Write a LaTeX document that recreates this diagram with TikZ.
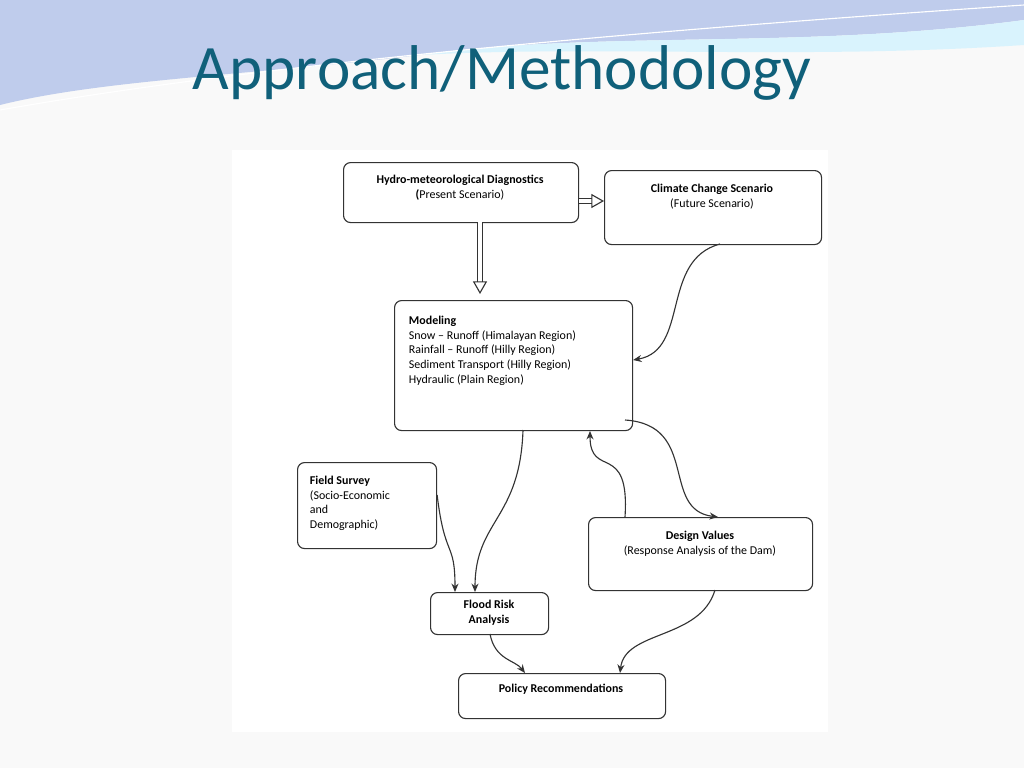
\documentclass[tikz,border=0pt]{standalone}
\usepackage{fontspec}
\setmainfont{Carlito}
\usetikzlibrary{arrows.meta}
\definecolor{titlec}{RGB}{16,96,122}
\begin{document}
\begin{tikzpicture}[x=0.25mm,y=-0.25mm,
  box/.style={draw=black!80,rounded corners=5pt,thick,font=\fontsize{8.5}{10.5}\selectfont,align=center},
  con/.style={draw=black!80,thick,-{Stealth[length=6pt,width=5pt]}},
  hol/.style={draw=black!80,double=white,double distance=3pt,thick,-{Triangle[open,length=9pt,width=10pt]}}]
\fill[gray!5] (0,0) rectangle (1024,768);
\useasboundingbox (0,0) rectangle (1024,768);
% top wave
\fill[cyan!45!blue!25] (0,0) -- (1024,0) -- (1024,20) .. controls (800,50) and (600,30) .. (420,55) .. controls (250,75) and (100,80) .. (0,105) -- cycle;
\fill[cyan!15] (420,55) .. controls (600,30) and (800,50) .. (1024,20) -- (1024,45) .. controls (800,60) and (600,45) .. (420,55);
\draw[white,thick] (0,110) .. controls (200,75) and (500,40) .. (1024,5);
\node[text=titlec,font=\fontsize{45}{50}\selectfont] (title) at (502,73) {Approach/Methodology};
\fill[white] (232,150) rectangle (828,732);
\node[box,minimum width=235*0.25mm,minimum height=60*0.25mm,anchor=north west] (hy) at (343,162) {};
\node[font=\fontsize{8.5}{10.5}\selectfont,align=center,anchor=north] at (460,170) {\textbf{Hydro-meteorological Diagnostics}\\\textbf{(}Present Scenario)};
\node[box,minimum width=217*0.25mm,minimum height=74*0.25mm,anchor=north west] (cc) at (604,170) {};
\node[font=\fontsize{8.5}{10.5}\selectfont,align=center,anchor=north] at (712,179) {\textbf{Climate Change Scenario}\\(Future Scenario)};
\node[box,minimum width=238*0.25mm,minimum height=130*0.25mm,anchor=north west] (mo) at (394,300) {};
\node[font=\fontsize{8.5}{10.5}\selectfont,align=left,anchor=north west] at (404,311) {\textbf{Modeling}\\Snow -- Runoff (Himalayan Region)\\Rainfall -- Runoff (Hilly Region)\\Sediment Transport (Hilly Region)\\Hydraulic (Plain Region)};
\node[box,minimum width=139*0.25mm,minimum height=86*0.25mm,anchor=north west] (fs) at (297,462) {};
\node[font=\fontsize{8.5}{10.5}\selectfont,align=left,anchor=north west] at (305,471) {\textbf{Field Survey}\\(Socio-Economic\\and\\Demographic)};
\node[box,minimum width=224*0.25mm,minimum height=73*0.25mm,anchor=north west] (dv) at (588,517) {};
\node[font=\fontsize{8.5}{10.5}\selectfont,align=center,anchor=north] at (700,526) {\textbf{Design Values}\\(Response Analysis of the Dam)};
\node[box,minimum width=118*0.25mm,minimum height=42*0.25mm,anchor=north west] (fr) at (430,592) {};
\node[font=\fontsize{8.5}{10.5}\selectfont\bfseries,align=center] at (489,613) {Flood Risk\\Analysis};
\node[box,minimum width=207*0.25mm,minimum height=45*0.25mm,anchor=north west] (po) at (458,673) {};
\node[font=\fontsize{8.5}{10.5}\selectfont\bfseries] at (561,689) {Policy Recommendations};
% connectors
\draw[hol] (hy.east|-0,201) -- (cc.west|-0,201);
\draw[hol] (480,222) -- (480,294);
\draw[con] (720,244) .. controls (660,260) and (690,350) .. (mo.east|-0,360);
\draw[con] (523,430) .. controls (520,520) and (475,520) .. (475,592);
\draw[con] (fs.east|-0,495) .. controls (445,560) and (455,540) .. (455,592);
\draw[con] (625,420) .. controls (700,425) and (660,510) .. (718,517);
\draw[con] (625,517) .. controls (630,440) and (590,480) .. (590,431);
\draw[con] (490,634) .. controls (495,660) and (515,660) .. (525,673);
\draw[con] (715,590) .. controls (700,640) and (625,630) .. (620,673);
\end{tikzpicture}
\end{document}
